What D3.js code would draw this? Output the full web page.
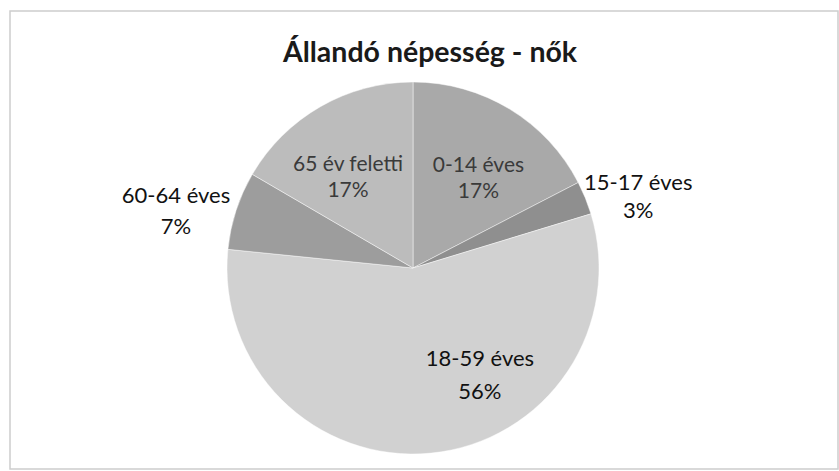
<!DOCTYPE html>
<html><head><meta charset="utf-8">
<script src="https://cdn.jsdelivr.net/npm/d3@7"></script>
<style>html,body{margin:0;padding:0;background:#fff;}svg{display:block;}</style>
</head><body>
<script>
// Data
const categories = ["0-14 éves", "15-17 éves", "18-59 éves", "60-64 éves", "65 év feletti"];
const values = [17.4, 2.9, 56.3, 6.8, 16.6];
const percentLabels = ["17%", "3%", "56%", "7%", "17%"];
const title = "Állandó népesség - nők";

// Styling / layout (not data)
const colors = ["#a9a9a9", "#8f8f8f", "#d1d1d1", "#9d9d9d", "#bcbcbc"];
const labelRadiusFactor = [0.6, 1.27, 0.68, 1.31, 0.6];
const labelAngleShift = [0.08, 0.08, -0.46, -0.08, -0.1];
const labelColor = ["#3a3a3a", "#111", "#111", "#111", "#3a3a3a"];
const labelSize = [21, 22, 22, 22, 21];
const lineGap = [26, 28, 33, 31, 26];

const W = 839, H = 471;
const cx = 413, cy = 268, R = 186;
const font = "Lato, 'Open Sans', sans-serif";

const svg = d3.select("body").append("svg").attr("width", W).attr("height", H);
svg.append("rect").attr("x", 10).attr("y", 11).attr("width", 828).attr("height", 458)
  .attr("fill", "#fff").attr("stroke", "#cdcdcd").attr("stroke-width", 1.5);

svg.append("text").attr("x", 430).attr("y", 62).attr("text-anchor", "middle")
  .attr("font-family", font).attr("font-weight", "bold").attr("font-size", 28.5)
  .attr("fill", "#1a1a1a").text(title);

const data = categories.map((c, i) => ({cat: c, value: values[i], pct: percentLabels[i], i}));
const pie = d3.pie().value(d => d.value).sort(null);
const arcs = pie(data);
const arc = d3.arc().innerRadius(0).outerRadius(R);

const g = svg.append("g").attr("transform", `translate(${cx},${cy})`);
g.selectAll("path").data(arcs).join("path")
  .attr("d", arc)
  .attr("fill", d => colors[d.data.i])
  .attr("stroke", "rgba(255,255,255,0.45)")
  .attr("stroke-width", 1);

const lg = g.selectAll("g.lbl").data(arcs).join("g").attr("class", "lbl")
  .attr("transform", d => {
    const i = d.data.i;
    const a = (d.startAngle + d.endAngle) / 2 + labelAngleShift[i];
    const r = R * labelRadiusFactor[i];
    return `translate(${r * Math.sin(a)},${-r * Math.cos(a)})`;
  });
lg.append("text").attr("text-anchor", "middle").attr("font-family", font)
  .attr("font-size", d => labelSize[d.data.i]).attr("fill", d => labelColor[d.data.i])
  .attr("y", d => -lineGap[d.data.i] / 2 + 7)
  .text(d => d.data.cat);
lg.append("text").attr("text-anchor", "middle").attr("font-family", font)
  .attr("font-size", d => labelSize[d.data.i]).attr("fill", d => labelColor[d.data.i])
  .attr("y", d => lineGap[d.data.i] / 2 + 7)
  .text(d => d.data.pct);
</script>
</body></html>
